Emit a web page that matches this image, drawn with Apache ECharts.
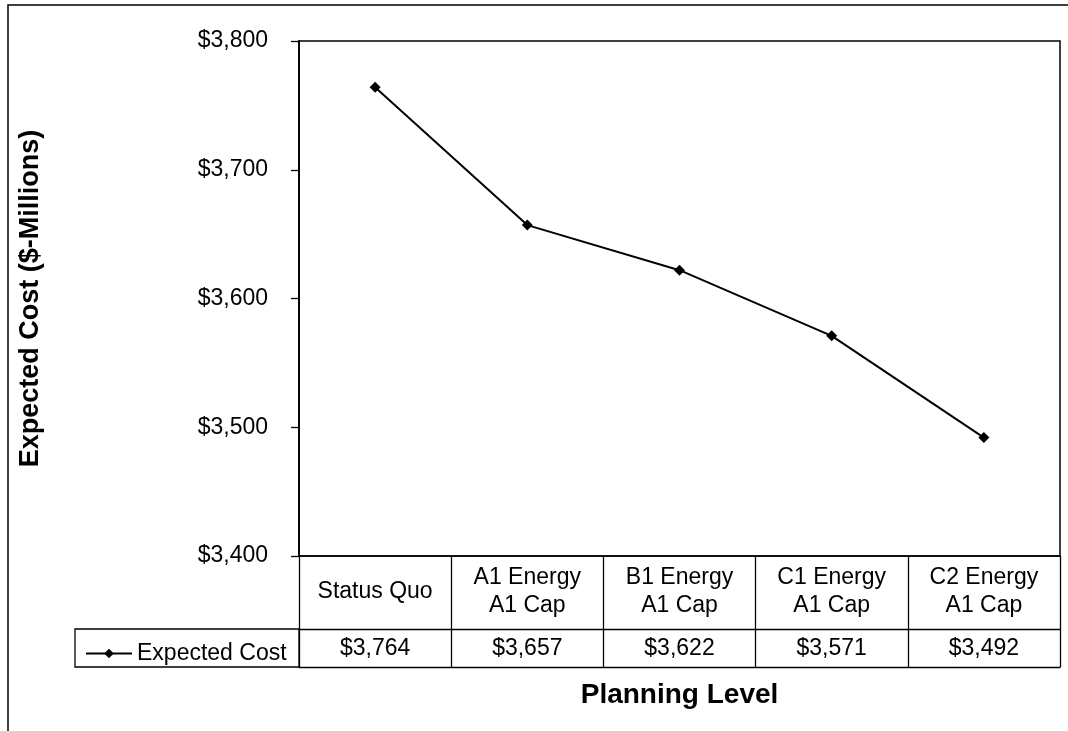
<!DOCTYPE html>
<html>
<head>
<meta charset="utf-8">
<script src="https://cdn.jsdelivr.net/npm/echarts@6/dist/echarts.min.js"></script>
<style>html,body{margin:0;padding:0;background:#fff}#c{width:1068px;height:731px}</style>
</head>
<body>
<div id="c"></div>
<script>
const categories = ['Status Quo', 'A1 Energy\nA1 Cap', 'B1 Energy\nA1 Cap', 'C1 Energy\nA1 Cap', 'C2 Energy\nA1 Cap'];
const expectedCost = [3764, 3657, 3622, 3571, 3492];
const seriesName = 'Expected Cost';
const yMin = 3400, yMax = 3800, yStep = 100;

const fmt = v => '$' + Number(v).toLocaleString('en-US');
const FONT = 'Arial, "Liberation Sans", sans-serif';
const chart = echarts.init(document.getElementById('c'), null, {renderer: 'canvas'});

const GL = 299, GR = 8, GT = 41, GB = 175; // grid
const H = 731;
const plotBottom = H - GB;

chart.setOption({
  animation: false,
  backgroundColor: '#fff',
  textStyle: {fontFamily: FONT, color: '#000'},
  grid: {left: GL, right: GR, top: GT, bottom: GB, show: true, borderColor: '#000', borderWidth: 1.5, containLabel: false},
  legend: {
    left: 80, top: 637, itemWidth: 46, itemHeight: 12, itemGap: 0,
    textStyle: {fontSize: 23, color: '#000', fontFamily: FONT},
    data: [seriesName]
  },
  xAxis: [
    {
      type: 'category', data: categories, boundaryGap: true, position: 'bottom',
      axisLine: {show: true, lineStyle: {color: '#000', width: 1.5}},
      axisTick: {show: true, length: 111, lineStyle: {color: '#000', width: 1.3}},
      axisLabel: {show: true, margin: 36, verticalAlign: 'middle', fontSize: 23, lineHeight: 28, color: '#000', fontFamily: FONT, interval: 0}
    },
    {
      type: 'category', data: categories, boundaryGap: true, position: 'bottom', offset: 73,
      axisLine: {show: true, lineStyle: {color: '#000', width: 1.3}},
      axisTick: {show: false},
      axisLabel: {show: true, margin: 20, verticalAlign: 'middle', fontSize: 23, color: '#000', fontFamily: FONT, interval: 0,
        formatter: (v, i) => fmt(expectedCost[i])}
    },
    {
      type: 'category', data: categories, boundaryGap: true, position: 'bottom', offset: 111,
      axisLine: {show: true, lineStyle: {color: '#000', width: 1.3}},
      axisTick: {show: false}, axisLabel: {show: false},
      name: 'Planning Level', nameLocation: 'middle', nameGap: 28,
      nameTextStyle: {fontSize: 28, fontWeight: 'bold', color: '#000', fontFamily: FONT, verticalAlign: 'middle'}
    }
  ],
  yAxis: {
    type: 'value', min: yMin, max: yMax, interval: yStep,
    axisLine: {show: true, lineStyle: {color: '#000', width: 1.8}},
    axisTick: {show: true, length: 8, lineStyle: {color: '#000', width: 1.3}},
    splitLine: {show: false},
    axisLabel: {margin: 31, fontSize: 23, color: '#000', fontFamily: FONT, formatter: v => fmt(v)},
    name: 'Expected Cost ($-Millions)', nameLocation: 'middle', nameGap: 268, nameRotate: 90,
    nameTextStyle: {fontSize: 27, fontWeight: 'bold', color: '#000', fontFamily: FONT, verticalAlign: 'middle'}
  },
  series: [{
    name: seriesName, type: 'line', data: expectedCost, xAxisIndex: 0,
    symbol: 'diamond', symbolSize: 11,
    lineStyle: {color: '#000', width: 2},
    itemStyle: {color: '#000'}
  }],
  graphic: [
    {type: 'polyline', shape: {points: [[8, H], [8, 5], [1068, 5]]}, style: {stroke: '#000', lineWidth: 1.5, fill: null}, silent: true},
    {type: 'rect', shape: {x: 75, y: plotBottom + 73, width: GL - 75, height: 38}, style: {stroke: '#000', lineWidth: 1.3, fill: null}, silent: true}
  ]
});
</script>
</body>
</html>
